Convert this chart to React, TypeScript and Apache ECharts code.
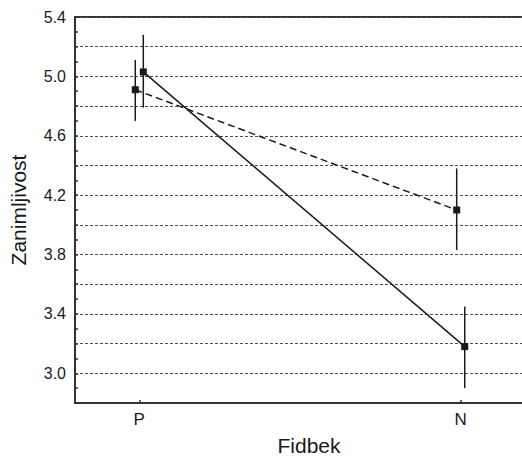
import React, { useEffect, useRef } from "react";
import * as echarts from "echarts";

// Data
const categories = ["P", "N"];
const yTickLabels = [3.0, 3.4, 3.8, 4.2, 4.6, 5.0, 5.4];

const solidMeans = [5.03, 3.18];
const solidLow = [4.79, 2.9];
const solidHigh = [5.28, 3.45];

const dashedMeans = [4.91, 4.1];
const dashedLow = [4.7, 3.83];
const dashedHigh = [5.11, 4.38];

const JITTER = 0.0125; // small horizontal offset of the two groups

const FONT = "'Liberation Sans', Arial, Helvetica, sans-serif";
const INK = "#1a1a1a";
const AXIS = "#333333";

export default function App() {
  const ref = useRef<HTMLDivElement>(null);

  useEffect(() => {
    if (!ref.current) return;
    const chart = echarts.init(ref.current, null, { renderer: "svg" });

    const pts = (means: number[], off: number) =>
      means.map((v, i) => [i + off, v]);
    const bars = (lo: number[], hi: number[], off: number) =>
      lo.map((l, i) => [i + off, l, hi[i]]);

    const errRender = (params: any, api: any) => {
      const x = api.value(0);
      const a = api.coord([x, api.value(1)]);
      const b = api.coord([x, api.value(2)]);
      return {
        type: "line",
        shape: { x1: a[0], y1: a[1], x2: b[0], y2: b[1] },
        style: { stroke: INK, lineWidth: 1.5 },
      };
    };

    chart.setOption({
      animation: false,
      backgroundColor: "#ffffff",
      grid: {
        left: 75,
        top: 17,
        right: -3,
        bottom: 54,
        containLabel: false,
        outerBoundsMode: "none",
        show: true,
        borderColor: AXIS,
        borderWidth: 2,
        backgroundColor: "transparent",
      },
      xAxis: {
        type: "value",
        min: -0.2,
        max: 1.2,
        name: "Fidbek",
        nameLocation: "middle",
        nameGap: 32,
        nameTextStyle: {
          fontFamily: FONT,
          fontSize: 21,
          color: INK,
          padding: [0, 0, 0, 18],
        },
        axisLine: {
          show: true,
          onZero: false,
          lineStyle: { color: AXIS, width: 2 },
        },
        axisTick: {
          show: true,
          inside: true,
          length: 3,
          customValues: [0, 1],
          lineStyle: { color: AXIS, width: 1.5 },
        },
        axisLabel: {
          customValues: [0, 1],
          formatter: (v: number) => categories[Math.round(v)] ?? "",
          fontFamily: FONT,
          fontSize: 17,
          color: INK,
          margin: 8,
        },
        splitLine: { show: false },
      },
      yAxis: {
        type: "value",
        min: 2.8,
        max: 5.4,
        interval: 0.2,
        name: "Zanimljivost",
        nameLocation: "middle",
        nameGap: 46,
        nameTextStyle: { fontFamily: FONT, fontSize: 21, color: INK },
        axisLine: {
          show: true,
          onZero: false,
          lineStyle: { color: AXIS, width: 2 },
        },
        axisTick: {
          show: true,
          inside: true,
          length: 3,
          lineStyle: { color: AXIS, width: 1.5 },
        },
        minorTick: {
          show: true,
          splitNumber: 2,
          length: 3,
          lineStyle: { color: AXIS, width: 1.5 },
        },
        axisLabel: {
          customValues: yTickLabels,
          formatter: (v: number) => v.toFixed(1),
          fontFamily: FONT,
          fontSize: 16,
          color: INK,
          margin: 9,
        },
        splitLine: {
          show: true,
          lineStyle: { color: "#4d4d4d", width: 1, type: [3, 2] },
        },
      },
      series: [
        {
          type: "line",
          name: "dashed",
          data: pts(dashedMeans, -JITTER),
          symbol: "rect",
          symbolSize: 7,
          lineStyle: { color: INK, width: 1.5, type: [7, 4] },
          itemStyle: { color: INK },
          z: 3,
        },
        {
          type: "line",
          name: "solid",
          data: pts(solidMeans, JITTER),
          symbol: "rect",
          symbolSize: 7,
          lineStyle: { color: INK, width: 1.5 },
          itemStyle: { color: INK },
          z: 3,
        },
        {
          type: "custom",
          data: bars(dashedLow, dashedHigh, -JITTER),
          renderItem: errRender,
          encode: { x: 0, y: [1, 2] },
          z: 2,
        },
        {
          type: "custom",
          data: bars(solidLow, solidHigh, JITTER),
          renderItem: errRender,
          encode: { x: 0, y: [1, 2] },
          z: 2,
        },
      ],
    });

    return () => chart.dispose();
  }, []);

  return (
    <div
      ref={ref}
      style={{ position: "absolute", left: 0, top: 0, width: 522, height: 457 }}
    />
  );
}
